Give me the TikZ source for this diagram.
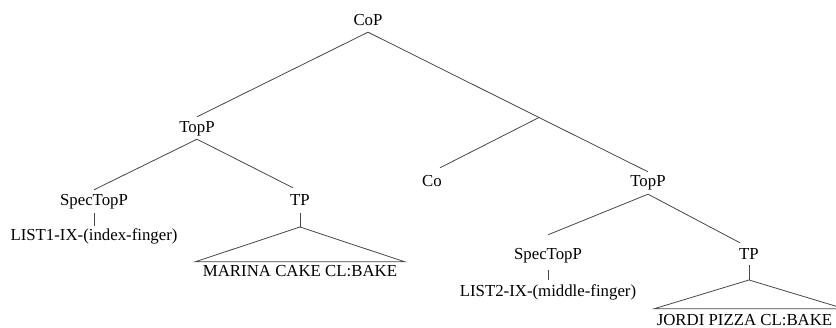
\documentclass[tikz,border=0pt]{standalone}
\usepackage{fontspec}
\setmainfont{Liberation Serif}
\begin{document}
\begin{tikzpicture}[x=1pt,y=-1pt,
  lab/.style={inner sep=0pt, text height=11.5pt, text depth=0pt, anchor=base,
    font=\fontsize{16.8pt}{20pt}\selectfont},
  br/.style={draw=black!72, line width=0.8pt}]
\useasboundingbox (0,0) rectangle (836,328);
% labels
\node[lab] (CoP)   at (368,26)  {CoP};
\node[lab] (TopL)  at (197,133) {TopP};
\node[lab] (SpecL) at (94,206)  {SpecTopP};
\node[lab] (TPL)   at (300,206) {TP};
\node[lab] (ListA) at (94,241)  {LIST1-IX-(index-finger)};
\node[lab] (Mar)   at (300,277) {MARINA CAKE CL:BAKE};
\node[lab] (Co)    at (432,187) {Co};
\node[lab] (TopR)  at (648,187) {TopP};
\node[lab] (SpecR) at (548,260) {SpecTopP};
\node[lab] (TPR)   at (749,260) {TP};
\node[lab] (ListB) at (548,297) {LIST2-IX-(middle-finger)};
\node[lab] (Jor)   at (744.5,325.5) {JORDI PIZZA CL:BAKE};
\coordinate (Cbar) at (539,117.5);
\coordinate (triL) at (300,227);
\coordinate (triR) at (749,280);
% branches
\draw[br] ([yshift=-6pt]CoP.south) -- ([yshift=4.5pt]TopL.north);
\draw[br] ([yshift=-6pt]CoP.south) -- (Cbar) -- ([yshift=3.5pt]TopR.north);
\draw[br] (Cbar) -- ([xshift=8pt,yshift=7.5pt]Co.north);
\draw[br] ([yshift=-6pt]TopL.south) -- ([yshift=4.5pt]SpecL.north);
\draw[br] ([yshift=-6pt]TopL.south) -- ([xshift=-7pt,yshift=6.5pt]TPL.north);
\draw[br] ([yshift=-7pt]SpecL.south) -- ([yshift=3.5pt]ListA.north);
\draw[br] ([yshift=-7pt]TPL.south) -- (triL);
\draw[br] (triL) -- ([xshift=-7.5pt,yshift=3.5pt]Mar.north west)
  -- ([xshift=7.5pt,yshift=3.5pt]Mar.north east) -- cycle;
\draw[br] ([yshift=-7pt]TopR.south) -- ([yshift=13.5pt]SpecR.north);
\draw[br] ([yshift=-7pt]TopR.south) -- ([xshift=-9pt,yshift=5.5pt]TPR.north);
\draw[br] ([yshift=-10pt]SpecR.south) -- ([yshift=5.5pt]ListB.north);
\draw[br] ([yshift=-5pt]TPR.south) -- (triR);
\draw[br] (triR) -- ([xshift=-2.5pt,yshift=5pt]Jor.north west)
  -- ([xshift=12pt,yshift=5pt]Jor.north east) -- cycle;
\end{tikzpicture}
\end{document}
